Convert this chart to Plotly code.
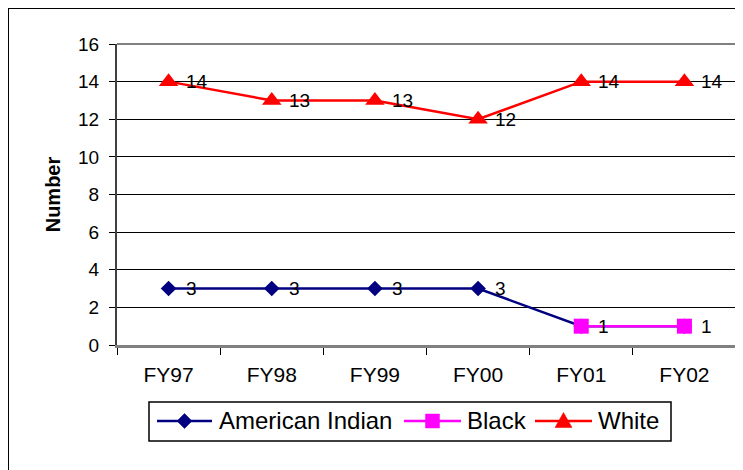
import plotly.graph_objects as go

categories = ["FY97", "FY98", "FY99", "FY00", "FY01", "FY02"]
american_indian = [3, 3, 3, 3, 1, 1]
black = [None, None, None, None, 1, 1]
white = [14, 13, 13, 12, 14, 14]
y_ticks = [0, 2, 4, 6, 8, 10, 12, 14, 16]
series_names = ["American Indian", "Black", "White"]
series_colors = ["#000080", "#FF00FF", "#FF0000"]

# figure is placed by the page at an 8px body offset
OFF = 8
W, H = 735, 462
L, R, T, B = 109, 7, 36, 125
pw = W - L - R
ph = H - T - B
plot_bottom = H - B

font = "Liberation Sans, Arial, sans-serif"


def px(X):
    return (X - OFF - L) / pw


def py(Y):
    return (plot_bottom - (Y - OFF)) / ph


fig = go.Figure()
symbols = ["diamond", "square", "triangle-up"]
sizes = [12, 15, 17]
all_values = [american_indian, black, white]
for name, vals, col, sym, sz in zip(series_names, all_values, series_colors, symbols, sizes):
    fig.add_trace(go.Scatter(
        x=categories, y=vals, name=name, mode="lines+markers",
        line=dict(color=col, width=2.5),
        marker=dict(symbol=sym, size=sz, color=col),
        cliponaxis=False, showlegend=False,
    ))

# data labels
label_font = dict(size=19, color="black", family=font)
for i, vals in enumerate(all_values):
    for c, v, b in zip(categories, vals, black):
        if v is None:
            continue
        if i == 0 and b is not None:
            continue  # hidden beneath the Black series
        fig.add_annotation(x=c, y=v, xref="x", yref="y", text=str(v),
                           showarrow=False, xanchor="left", yanchor="middle",
                           xshift=15, font=label_font)

# outer chart frame
fig.add_shape(type="rect", xref="paper", yref="paper",
              x0=(0 - L) / pw, x1=(W + 30 - L) / pw,
              y0=-(H + 30 - plot_bottom) / ph, y1=1 + T / ph,
              line=dict(color="black", width=2), layer="below")
# gray plot area border top/right
fig.add_shape(type="line", xref="paper", yref="paper", x0=0, x1=1, y0=1, y1=1,
              line=dict(color="#808080", width=2))
fig.add_shape(type="line", xref="paper", yref="paper", x0=1, x1=1, y0=0, y1=1,
              line=dict(color="#808080", width=2))

# custom legend (box, key lines, key markers, texts)
fig.add_shape(type="rect", xref="paper", yref="paper",
              x0=px(149), x1=px(671), y0=py(441), y1=py(402),
              line=dict(color="black", width=1.5), fillcolor="white")
ly = py(421)
key_lines = [(157, 212), (404, 461), (535, 592)]
key_text_x = [217, 465, 596]
marker_paths = [
    "M-7.5,0 L0,7.5 L7.5,0 L0,-7.5 Z",
    "M-7,-7 L7,-7 L7,7 L-7,7 Z",
    "M-8.5,-6.5 L8.5,-6.5 L0,8.5 Z",
]
for (a, b_), tx, name, col, path in zip(key_lines, key_text_x, series_names,
                                        series_colors, marker_paths):
    fig.add_shape(type="line", xref="paper", yref="paper",
                  x0=px(a), x1=px(b_), y0=ly, y1=ly,
                  line=dict(color=col, width=2.5))
    fig.add_shape(type="path", xref="paper", yref="paper",
                  xsizemode="pixel", ysizemode="pixel",
                  xanchor=px((a + b_) / 2), yanchor=ly, path=path,
                  fillcolor=col, line=dict(color=col, width=0.5))
    fig.add_annotation(x=px(tx), y=ly, xref="paper", yref="paper", text=name,
                       showarrow=False, xanchor="left", yanchor="middle",
                       font=dict(size=24, family=font, color="black"))

fig.update_layout(
    width=W, height=H,
    margin=dict(l=L, r=R, t=T, b=B, autoexpand=False),
    paper_bgcolor="white", plot_bgcolor="white",
    font=dict(family=font, size=19, color="black"),
    showlegend=False,
    xaxis=dict(
        type="category", range=[-0.5, 5.5], automargin=False,
        tickson="boundaries", ticks="outside", ticklen=7, tickcolor="black",
        showline=True, linecolor="#808080", linewidth=2.5,
        showgrid=False, tickfont=dict(size=21), ticklabelstandoff=9,
        fixedrange=True,
    ),
    yaxis=dict(
        range=[0, 16], tickvals=y_ticks, ticks="outside", ticklen=6,
        tickcolor="black", automargin=False,
        showline=True, linecolor="#404040", linewidth=2,
        showgrid=True, gridcolor="black", gridwidth=1,
        zeroline=False, tickfont=dict(size=19), ticklabelstandoff=6,
        title=dict(text="<b>Number</b>", font=dict(size=20), standoff=12),
    ),
)

fig.write_html("out.html")
